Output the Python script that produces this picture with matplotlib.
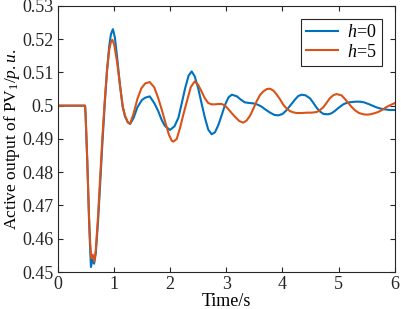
import matplotlib
matplotlib.use('Agg')
import matplotlib.pyplot as plt

plt.rcParams['font.family'] = ['Liberation Serif', 'DejaVu Serif']
plt.rcParams['mathtext.fontset'] = 'custom'
plt.rcParams['mathtext.rm'] = 'Liberation Serif'
plt.rcParams['mathtext.it'] = 'Liberation Serif:italic'

# time (s) and active output (p.u.)
t_h0 = [0.0, 0.49, 0.50, 0.53, 0.56, 0.58, 0.595, 0.62, 0.65, 0.68, 0.72, 0.76,
        0.80, 0.84, 0.88, 0.92, 0.95, 0.985, 1.02, 1.06, 1.11, 1.16, 1.20, 1.25,
        1.29, 1.35, 1.42, 1.50, 1.56, 1.64, 1.72, 1.79, 1.85, 1.91, 2.00, 2.08,
        2.15, 2.21, 2.27, 2.33, 2.385, 2.44, 2.50, 2.56, 2.62, 2.68, 2.74, 2.80,
        2.86, 2.92, 2.98, 3.04, 3.10, 3.19, 3.26, 3.33, 3.41, 3.48, 3.56, 3.63,
        3.70, 3.78, 3.86, 3.93, 4.00, 4.07, 4.15, 4.22, 4.28, 4.34, 4.41, 4.49,
        4.55, 4.61, 4.67, 4.73, 4.81, 4.87, 4.93, 5.00, 5.08, 5.15, 5.23, 5.30,
        5.38, 5.45, 5.53, 5.60, 5.67, 5.75, 5.82, 5.90, 6.00]
p_h0 = [0.5, 0.5, 0.497, 0.483, 0.466, 0.457, 0.4515, 0.4538, 0.4525, 0.4555, 0.465, 0.477,
        0.4893, 0.5005, 0.5105, 0.518, 0.5215, 0.523, 0.5205, 0.5145, 0.5063, 0.4995, 0.4968, 0.4950,
        0.4945, 0.4962, 0.4995, 0.5017, 0.5024, 0.5028, 0.5008, 0.4984, 0.4958, 0.4939, 0.4927, 0.4938,
        0.4964, 0.5008, 0.5053, 0.5090, 0.5103, 0.5088, 0.5053, 0.5008, 0.4964, 0.4928, 0.4914, 0.4920,
        0.4942, 0.4972, 0.5003, 0.5025, 0.5033, 0.5028, 0.5018, 0.5010, 0.5008, 0.5007, 0.5003, 0.4997,
        0.4988, 0.4979, 0.4972, 0.4971, 0.4975, 0.4986, 0.5003, 0.5018, 0.5029, 0.5033, 0.5031, 0.5022,
        0.5008, 0.4993, 0.4982, 0.4975, 0.4974, 0.4977, 0.4984, 0.4994, 0.5004, 0.5009, 0.5011, 0.5012,
        0.5012, 0.5010, 0.5005, 0.5000, 0.4995, 0.4991, 0.4989, 0.4987, 0.4987]

t_h5 = [0.0, 0.49, 0.50, 0.53, 0.56, 0.58, 0.60, 0.625, 0.655, 0.68, 0.72, 0.76,
        0.80, 0.84, 0.88, 0.92, 0.95, 0.975, 1.01, 1.06, 1.11, 1.16, 1.20, 1.25,
        1.29, 1.35, 1.42, 1.49, 1.56, 1.64, 1.72, 1.79, 1.85, 1.91, 1.98, 2.03,
        2.06, 2.12, 2.18, 2.24, 2.30, 2.37, 2.44, 2.50, 2.56, 2.62, 2.68, 2.74,
        2.80, 2.86, 2.92, 2.98, 3.04, 3.10, 3.16, 3.23, 3.30, 3.36, 3.42, 3.48,
        3.54, 3.60, 3.66, 3.72, 3.78, 3.84, 3.90, 3.96, 4.01, 4.07, 4.13, 4.19,
        4.25, 4.35, 4.43, 4.52, 4.61, 4.67, 4.73, 4.79, 4.84, 4.90, 4.96, 5.05,
        5.11, 5.17, 5.23, 5.29, 5.36, 5.44, 5.50, 5.56, 5.63, 5.70, 5.78, 5.85,
        5.92, 6.00]
p_h5 = [0.5, 0.5, 0.497, 0.483, 0.467, 0.459, 0.4542, 0.4552, 0.4532, 0.4565, 0.4665, 0.479,
        0.4910, 0.5015, 0.5105, 0.5168, 0.5192, 0.5198, 0.5182, 0.5130, 0.5062, 0.4998, 0.4970, 0.4950,
        0.4946, 0.4975, 0.5020, 0.5052, 0.5067, 0.5071, 0.5055, 0.5023, 0.4990, 0.4954, 0.4913, 0.4895,
        0.4892, 0.4900, 0.4934, 0.4975, 0.5013, 0.5056, 0.5073, 0.5063, 0.5043, 0.5022, 0.5008, 0.5004,
        0.5004, 0.5005, 0.5005, 0.5000, 0.4989, 0.4977, 0.4966, 0.4954, 0.4949, 0.4955, 0.4969, 0.4990,
        0.5013, 0.5032, 0.5043, 0.5050, 0.5051, 0.5045, 0.5033, 0.5018, 0.5004, 0.4992, 0.4984, 0.4980,
        0.4978, 0.4978, 0.4979, 0.4979, 0.4981, 0.4987, 0.4996, 0.5010, 0.5022, 0.5031, 0.5035, 0.5031,
        0.5020, 0.5008, 0.4996, 0.4986, 0.4978, 0.4974, 0.4973, 0.4974, 0.4977, 0.4981, 0.4988, 0.4996,
        0.5002, 0.5008]

yticks = [0.45, 0.46, 0.47, 0.48, 0.49, 0.5, 0.51, 0.52, 0.53]
ytick_labels = ['0.45', '0.46', '0.47', '0.48', '0.49', '0.5', '0.51', '0.52', '0.53']
xticks = [0, 1, 2, 3, 4, 5, 6]

fig = plt.figure(figsize=(4.01, 3.09), dpi=100)
ax = fig.add_axes([0.1434, 0.1197, 0.8416, 0.8613])

ax.plot(t_h0, p_h0, color='#0072BD', lw=1.5, label='$h$=0')
ax.plot(t_h5, p_h5, color='#D95319', lw=1.5, label='$h$=5')

ax.set_xlim(0, 6)
ax.set_ylim(0.45, 0.53)
ax.set_xticks(xticks)
ax.set_yticks(yticks)
ax.set_yticklabels(ytick_labels)
ax.tick_params(direction='in', top=True, right=True, labelsize=13,
               length=3.5, width=0.8, colors='#262626', pad=3)
for s in ax.spines.values():
    s.set_color('#262626')
    s.set_linewidth(0.8)

ax.set_xlabel('Time/s', fontsize=13, labelpad=0)
ax.set_ylabel('Active output of PV$_1$/$p.u.$', fontsize=12.5, labelpad=0)

leg = ax.legend(loc='upper right', fontsize=13, fancybox=False, framealpha=1,
                edgecolor='#262626', handlelength=1.8, borderpad=0.3,
                labelspacing=0.15, handletextpad=0.5, borderaxespad=0.7)
leg.get_frame().set_linewidth(0.8)

fig.savefig('out.png', dpi=100)
